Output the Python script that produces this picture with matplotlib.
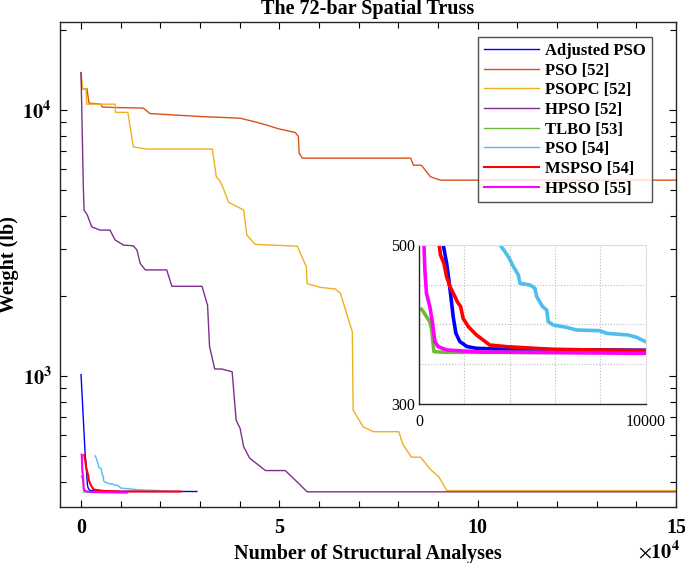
import math
import matplotlib
matplotlib.use("Agg")
import matplotlib.pyplot as plt
from matplotlib.ticker import MultipleLocator, FixedLocator, NullFormatter, FuncFormatter

plt.rcParams['font.family'] = ['Liberation Serif', 'DejaVu Serif']
plt.rcParams['mathtext.fontset'] = 'stix'

# ---- data (x: structural analyses, y: weight lb) ----
adj_x = [0, 1060, 1210, 1310, 1400, 1500, 1620, 1800, 2120, 2530, 3860, 10000, 29200]
adj_y = [1010, 500, 476.6, 455.6, 434.7, 409.6, 388.7, 378.2, 372, 369.9, 368.6, 367.5, 367]

pso52_x = [0, 250, 1500, 2000, 5050, 5300, 8600, 15700, 17400, 30000, 40100, 43900,
           47200, 49700, 54000, 54800, 55000, 55800, 83100, 83800, 85800, 88100, 90600, 150000]
pso52_y = [13800, 12000, 12000, 10600, 10500, 10250, 10200, 10150, 9680, 9440, 9300, 9010,
           8730, 8490, 8220, 7940, 6870, 6580, 6580, 6190, 6190, 5600, 5440, 5440]

psopc_x = [0, 420, 1260, 1430, 8600, 8700, 11800, 13200, 16600, 33100, 34100, 35100, 36100,
           37200, 41000, 41800, 43900, 54500, 56800, 57000, 60300, 64100, 65400, 68400,
           68600, 71100, 73700, 80100, 81200, 83300, 85600, 88100, 90200, 92200, 150000]
psopc_y = [13800, 12000, 12000, 10500, 10500, 9780, 9780, 7250, 7120, 7120, 5600, 5380, 4960,
           4490, 4200, 3380, 3120, 3070, 2570, 2220, 2150, 2120, 2040, 1460,
           743, 643, 616, 616, 550, 494, 494, 444, 417, 370, 370]

hpso_x = [0, 580, 760, 1590, 2700, 4800, 7300, 8600, 10700, 13200, 14100, 14900, 16200,
          21600, 22900, 30500, 31900, 32400, 33700, 35500, 38100, 39100, 40100, 41000,
          42500, 46500, 51500, 55300, 57000, 150000]
hpso_y = [13800, 5130, 4200, 4020, 3630, 3530, 3530, 3240, 3100, 3080, 2970, 2650, 2500,
          2500, 2170, 2170, 1840, 1290, 1060, 1060, 1035, 681, 634, 541,
          490, 440, 440, 388, 366, 366]

tlbo_x = [100, 180, 320, 470, 550, 650, 1210, 10000]
tlbo_y = [419, 416, 409.6, 403.3, 392.9, 365.7, 364.9, 364.5]

pso54_x = [3560, 3790, 3980, 4160, 4380, 4450, 4890, 5110, 5190, 5450, 5630, 5700, 5920,
           6510, 6950, 7980, 8280, 9240, 9600, 10000, 11000, 15000, 20000]
pso54_y = [500, 491.2, 482.8, 472.4, 461.9, 451.5, 449.4, 445.2, 434.7, 422.2, 418, 403.3, 399.2,
           396.2, 392.9, 392, 388.7, 386.6, 383.7, 378.2, 377, 372, 370]

mspso_x = [800, 880, 940, 1090, 1210, 1360, 1580, 1680, 1830, 1940, 2170, 2530, 3120,
           3860, 5920, 10000, 25000]
mspso_y = [503, 500, 487, 476.6, 459.8, 447.3, 434.7, 428.5, 422.2, 407.5, 397, 386.6, 374,
           372, 368.6, 367, 367]

hpsso_x = [150, 210, 250, 320, 470, 590, 690, 840, 1210, 2680, 10000, 11600]
hpsso_y = [505, 500, 468, 438.9, 422.2, 401.3, 378.2, 372, 367.8, 365.3, 363.6, 363.6]

series = [
    ('Adjusted PSO', adj_x, adj_y, '#0000FF'),
    ('PSO [52]', pso52_x, pso52_y, '#D95319'),
    ('PSOPC [52]', psopc_x, psopc_y, '#EDB120'),
    ('HPSO [52]', hpso_x, hpso_y, '#7E2F8E'),
    ('TLBO [53]', tlbo_x, tlbo_y, '#6FBA35'),
    ('PSO [54]', pso54_x, pso54_y, '#4DBEEE'),
    ('MSPSO [54]', mspso_x, mspso_y, '#FF0000'),
    ('HPSSO [55]', hpsso_x, hpsso_y, '#FF00FF'),
]

fig = plt.figure(figsize=(6.85, 5.63), dpi=100)
ax = fig.add_axes([0.0876, 0.0995, 0.8993, 0.8615])

for name, xs, ys, c in series:
    lw = 1.5 if name in ('MSPSO [54]', 'HPSSO [55]') else 1.0
    ax.plot(xs, ys, color=c, lw=lw, label=name)

ax.set_yscale('log')
ax.set_xlim(-5300, 150000)
ax.set_ylim(321, 21400)

ax.xaxis.set_major_locator(MultipleLocator(50000))
ax.xaxis.set_minor_locator(MultipleLocator(10000))
ax.xaxis.set_major_formatter(FuncFormatter(lambda v, _: f'{v / 1e4:g}'))
ax.yaxis.set_major_locator(FixedLocator([1e3, 1e4]))
ax.yaxis.set_major_formatter(FuncFormatter(lambda v, _: r'$\mathbf{10^{%d}}$' % round(math.log10(v))))
ax.yaxis.set_minor_locator(FixedLocator([k * 10 ** e for e in (2, 3, 4) for k in range(2, 10)]))
ax.yaxis.set_minor_formatter(NullFormatter())
ax.tick_params(which='both', direction='in', top=True, right=True, width=0.8)
ax.tick_params(which='major', length=5, labelsize=14.5)
ax.tick_params(axis='x', which='major', pad=8)
ax.tick_params(axis='y', which='major', pad=6)
ax.tick_params(which='minor', length=4)
for lab in ax.get_xticklabels():
    lab.set_fontweight('bold')
for s in ax.spines.values():
    s.set_linewidth(1.0)
    s.set_color('#262626')

ax.set_title('The 72-bar Spatial Truss', fontsize=14.5, fontweight='bold', pad=6)
ax.set_xlabel('Number of Structural Analyses', fontsize=14.5, fontweight='bold', labelpad=4)
ax.set_ylabel('Weight (lb)', fontsize=14.5, fontweight='bold')
ax.yaxis.set_label_coords(-0.066, 0.5)
fig.text(0.993, 0.0, r'$\times\mathbf{10^{4}}$', fontsize=14.5, ha='right', va='bottom')

leg = ax.legend(loc='upper right', bbox_to_anchor=(652 / 685, 1 - 37 / 563),
                bbox_transform=fig.transFigure, prop={'weight': 'bold', 'size': 12},
                frameon=True, fancybox=False, handlelength=3.3, handletextpad=0.4,
                labelspacing=0.22, borderpad=0.35, borderaxespad=0)
leg.get_frame().set_edgecolor('#262626')
leg.get_frame().set_linewidth(1.0)

# ---- inset ----
axin = fig.add_axes([0.612, 0.2824, 0.3305, 0.283])
for name, xs, ys, c in series:
    axin.plot(xs, ys, color=c, lw=2.6)
axin.set_xlim(0, 10000)
axin.set_ylim(300, 500)
axin.set_xticks([0, 2000, 4000, 6000, 8000, 10000])
axin.set_xticklabels(['0', '', '', '', '', '10000'])
axin.set_yticks([300, 350, 400, 450, 500])
axin.set_yticklabels(['300', '', '', '', '500'])
axin.tick_params(length=0, labelsize=11.5)
axin.tick_params(axis='x', pad=7)
axin.tick_params(axis='y', pad=3)
axin.grid(True, linestyle=':', color='#BBBBBB', linewidth=0.8)
for side in ('top', 'right'):
    axin.spines[side].set_color('#DDDDDD')
for side in ('left', 'bottom'):
    axin.spines[side].set_color('#262626')
    axin.spines[side].set_linewidth(1.0)

fig.savefig('out.png', dpi=100)
